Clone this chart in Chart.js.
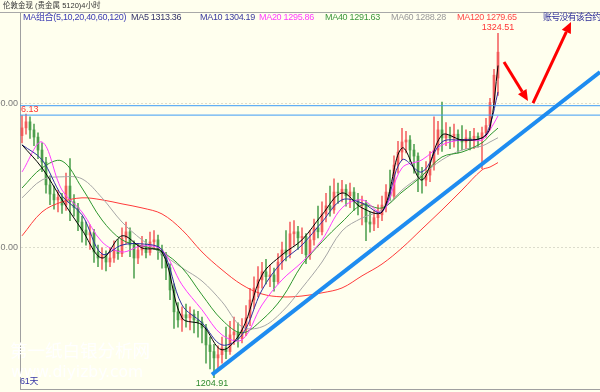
<!DOCTYPE html>
<html>
<head>
<meta charset="utf-8">
<script src="https://cdn.jsdelivr.net/npm/chart.js@4"></script>
<style>
  html, body { margin: 0; padding: 0; background: #ffffee; }
  #wrap { position: relative; width: 600px; height: 392px; overflow: hidden; background: #ffffee;
          font-family: "Liberation Sans", "Noto Sans CJK SC", sans-serif; }
  #c { position: absolute; left: 0; top: 0; }
  #head { position: absolute; left: 0; top: 0; width: 600px; height: 12px; border-bottom: 1px solid #a8a8a8; }
  .t { position: absolute; white-space: nowrap; font-size: 9px; line-height: 10px; letter-spacing: -0.3px; }
  .wm { position: absolute; white-space: nowrap; color: #ffffff; }
</style>
</head>
<body>
<div id="wrap">
  <canvas id="c" width="600" height="392"></canvas>
  <div id="head"></div>
  <div class="t" style="left:3px;top:1px;color:#333;font-size:7.5px;letter-spacing:0">伦敦金现 (贵金属 5120)4小时</div>
  <div class="t" style="left:23px;top:12px;color:#3c3cb4">MA组合(5,10,20,40,60,120)</div>
  <div class="t" style="left:131px;top:12px;color:#33336a">MA5 1313.36</div>
  <div class="t" style="left:200px;top:12px;color:#3a3aa0">MA10 1304.19</div>
  <div class="t" style="left:259px;top:12px;color:#ff3cff">MA20 1295.86</div>
  <div class="t" style="left:325px;top:12px;color:#3d983d">MA40 1291.63</div>
  <div class="t" style="left:391px;top:12px;color:#9a9a9a">MA60 1288.28</div>
  <div class="t" style="left:457px;top:12px;color:#ff4848">MA120 1279.65</div>
  <div class="t" style="left:543px;top:12px;color:#30309a;letter-spacing:-0.8px">账号没有该合约</div>
  <div class="wm" style="left:10px;top:341px;font-size:17.5px;line-height:18px;font-family:'Noto Sans CJK SC'">第一纸白银分析网</div>
  <div class="wm" style="left:11px;top:364px;font-size:15.5px;line-height:16px;font-family:'DejaVu Sans'">www.diyizby.com</div>
  <div class="t" style="left:20px;top:376px;color:#3636a6">61天</div>
</div>
<script>
/* ---------- candles (4 hour bars) ---------- */
const opens = [
  1289.0,1291.7,1293.8,1291.0,1288.5,1284.0,1279.8,1271.9,1268.7,1266.7,
  1267.6,1264.9,1271.5,1266.0,1264.0,1259.0,1256.2,1254.5,1255.3,1248.6,
  1246.5,1247.8,1245.1,1246.5,1249.3,1248.0,1253.5,1255.6,1251.0,1246.5,
  1249.3,1250.7,1248.4,1252.1,1252.8,1249.3,1247.5,1243.1,1235.4,1227.8,
  1225.0,1226.8,1225.7,1227.0,1225.0,1224.3,1222.2,1216.3,1214.0,1211.8,
  1212.9,1215.3,1214.0,1219.8,1220.8,1218.5,1221.5,1225.7,1231.9,1236.1,
  1238.9,1241.7,1240.0,1240.6,1238.3,1245.1,1249.3,1247.8,1254.9,1255.6,
  1253.5,1254.0,1247.6,1252.8,1257.0,1255.6,1261.8,1264.6,1263.2,1269.4,
  1269.1,1270.4,1268.1,1269.4,1266.7,1264.9,1265.5,1259.0,1258.3,1260.5,
  1261.5,1264.9,1269.4,1268.0,1278.8,1283.3,1286.8,1287.5,1284.0,1281.9,
  1275.3,1273.6,1275.3,1278.8,1284.0,1291.0,1288.2,1289.2,1288.2,1289.5,
  1287.5,1286.8,1288.2,1287.5,1288.8,1288.0,1290.0,1292.5,1300.5,1309.0
];
const highs = [
  1296.0,1296.5,1295.5,1293.0,1290.0,1286.5,1281.5,1275.0,1271.5,1270.0,
  1269.0,1276.0,1281.0,1268.5,1265.5,1261.0,1259.0,1258.0,1256.5,1251.0,
  1250.0,1249.0,1250.0,1252.5,1253.0,1257.0,1259.0,1257.0,1252.5,1251.5,
  1254.0,1253.0,1255.5,1256.0,1254.5,1251.0,1248.5,1244.5,1237.5,1231.0,
  1229.5,1230.5,1229.5,1228.5,1228.0,1226.0,1223.5,1219.0,1216.5,1216.0,
  1219.0,1222.5,1224.5,1226.0,1224.0,1225.5,1230.0,1236.0,1240.0,1243.5,
  1245.0,1246.0,1244.0,1243.0,1248.0,1252.0,1256.0,1259.0,1259.5,1257.5,
  1257.0,1255.0,1256.0,1260.0,1264.5,1266.0,1269.0,1271.5,1274.0,1272.5,
  1273.5,1272.0,1272.5,1271.0,1269.0,1268.0,1266.5,1262.5,1263.0,1265.0,
  1268.0,1272.0,1277.0,1282.0,1287.0,1291.5,1290.5,1289.0,1286.0,1283.0,
  1278.0,1280.0,1283.5,1295.5,1294.0,1300.7,1293.5,1292.0,1293.0,1291.0,
  1292.5,1291.0,1290.5,1291.5,1290.0,1292.0,1295.0,1302.0,1312.0,1324.51
];
const lows = [
  1286.5,1289.5,1288.0,1285.5,1281.0,1276.5,1269.0,1265.0,1263.5,1262.5,
  1262.0,1263.0,1259.5,1261.0,1256.0,1252.0,1251.0,1249.5,1245.0,1243.5,
  1242.5,1242.0,1243.5,1245.0,1246.0,1247.0,1251.5,1247.0,1239.5,1244.5,
  1247.5,1246.5,1247.5,1249.5,1246.0,1243.0,1239.0,1232.0,1222.0,1222.5,
  1221.0,1222.5,1221.5,1220.5,1219.0,1217.0,1210.0,1208.0,1204.91,1207.5,
  1210.0,1211.5,1213.0,1216.5,1215.5,1217.0,1219.5,1223.0,1229.0,1233.0,
  1236.0,1237.5,1236.5,1235.0,1237.5,1242.5,1245.5,1246.5,1251.0,1249.5,
  1248.0,1244.5,1246.0,1251.0,1253.5,1254.5,1259.0,1261.0,1262.0,1265.5,
  1266.0,1264.5,1264.0,1263.0,1261.5,1258.0,1252.5,1255.5,1256.0,1257.0,
  1259.5,1262.5,1266.5,1267.0,1276.0,1280.5,1283.0,1280.0,1276.0,1269.5,
  1269.0,1271.5,1273.0,1277.0,1282.5,1283.5,1285.5,1284.5,1285.0,1283.0,
  1284.0,1284.5,1284.0,1284.5,1285.0,1277.5,1288.5,1291.0,1299.0,1303.0
];
const closes = [
  1291.7,1293.8,1291.0,1288.5,1284.0,1279.8,1271.9,1268.7,1266.7,1267.6,
  1264.9,1271.5,1266.0,1264.0,1259.0,1256.2,1254.5,1255.3,1248.6,1246.5,
  1247.8,1245.1,1246.5,1249.3,1248.0,1253.5,1255.6,1251.0,1246.5,1249.3,
  1250.7,1248.4,1252.1,1252.8,1249.3,1247.5,1243.1,1235.4,1227.8,1225.0,
  1226.8,1225.7,1227.0,1225.0,1224.3,1222.2,1216.3,1214.0,1211.8,1212.9,
  1215.3,1214.0,1219.8,1220.8,1218.5,1221.5,1225.7,1231.9,1236.1,1238.9,
  1241.7,1240.0,1240.6,1238.3,1245.1,1249.3,1247.8,1254.9,1255.6,1253.5,
  1254.0,1247.6,1252.8,1257.0,1255.6,1261.8,1264.6,1263.2,1269.4,1269.1,
  1270.4,1268.1,1269.4,1266.7,1264.9,1265.5,1259.0,1258.3,1260.5,1261.5,
  1264.9,1269.4,1268.0,1278.8,1283.3,1286.8,1287.5,1284.0,1281.9,1275.3,
  1273.6,1275.3,1278.8,1284.0,1291.0,1288.2,1289.2,1288.2,1289.5,1287.5,
  1286.8,1288.2,1287.5,1288.8,1288.0,1290.0,1292.5,1300.5,1310.0,1318.0
];

/* ---------- moving averages, sampled at these bar indexes ---------- */
const maIdx  = [0,5,10,15,20,25,30,35,40,45,50,55,60,65,70,75,80,85,90,95,100,105,110,115,117,119];
const ma5   = [1285.8,1277.8,1266.7,1256.3,1246.5,1254.2,1250.0,1248.6,1225.7,1223.3,1214.6,1221.5,1240.6,1247.6,1252.8,1261.5,1269.1,1263.9,1262.5,1284.7,1273.6,1289.2,1287.5,1288.2,1291.7,1313.36];
const ma10  = [1285.8,1280.6,1268.1,1261.5,1247.9,1251.0,1251.4,1249.3,1230.2,1224.0,1216.3,1219.8,1235.4,1245.1,1251.0,1259.0,1266.7,1265.6,1262.5,1280.6,1276.4,1286.8,1287.5,1288.2,1292.7,1304.19];
const ma20  = [1276.4,1286.8,1270.1,1262.5,1252.1,1248.6,1250.7,1249.3,1237.2,1228.5,1219.8,1218.1,1230.2,1238.9,1245.1,1252.8,1263.9,1266.7,1262.5,1277.8,1280.6,1285.8,1287.5,1287.5,1291.0,1295.86];
const ma40  = [1270.8,1277.8,1280.2,1270.8,1259.7,1252.8,1250.7,1248.6,1243.1,1233.7,1225.0,1220.5,1225.0,1232.6,1244.1,1252.1,1259.0,1264.9,1263.9,1269.4,1275.0,1281.6,1283.3,1286.5,1289.2,1291.63];
const ma60  = [1267.4,1273.6,1274.7,1274.0,1267.4,1259.0,1252.8,1247.9,1243.1,1238.5,1231.3,1222.6,1222.6,1227.8,1236.1,1245.1,1255.9,1260.4,1263.2,1270.1,1275.3,1280.6,1284.0,1285.4,1286.8,1288.28];
const ma120 = [1254.2,1262.5,1266.0,1267.4,1266.7,1265.3,1263.9,1261.8,1256.3,1248.6,1242.4,1237.2,1234.0,1233.0,1233.3,1234.4,1236.1,1240.3,1244.4,1250.0,1256.6,1263.2,1270.1,1277.1,1278.1,1279.65];

/* ---------- axis and drawn objects ---------- */
const yTicks = [1250, 1300];
const hLines = [1299.4, 1296.13];
const trendPts = [[47.5, 1206.0], [144.5, 1311.1]];
const arrows = [
  [[120.5, 1314.6], [126.5, 1301.0]],
  [[127.75, 1300.3], [137.25, 1328.5]]
];

const up = closes.map((c, i) => c >= opens[i]);
const maLine = (vals, color, order) => ({
  type: 'line',
  data: vals.map((v, j) => ({x: maIdx[j], y: v})),
  borderColor: color, borderWidth: 1, pointRadius: 0, tension: 0.35, order: order
});

const annotations = {
  id: 'annotations',
  afterDatasetsDraw(chart) {
    const {ctx, scales: {x, y}, chartArea} = chart;
    ctx.save();
    // red arrows
    ctx.strokeStyle = '#ff0000';
    ctx.fillStyle = '#ff0000';
    ctx.lineWidth = 3;
    arrows.forEach(([s, e]) => {
      const x1 = x.getPixelForValue(s[0]), y1 = y.getPixelForValue(s[1]);
      const x2 = x.getPixelForValue(e[0]), y2 = y.getPixelForValue(e[1]);
      const a = Math.atan2(y2 - y1, x2 - x1);
      const len = 11, half = 5;
      const bx = x2 - len * Math.cos(a), by = y2 - len * Math.sin(a);
      ctx.beginPath(); ctx.moveTo(x1, y1); ctx.lineTo(bx, by); ctx.stroke();
      ctx.beginPath();
      ctx.moveTo(x2, y2);
      ctx.lineTo(bx + half * Math.sin(a), by - half * Math.cos(a));
      ctx.lineTo(bx - half * Math.sin(a), by + half * Math.cos(a));
      ctx.closePath(); ctx.fill();
    });
    // high / low labels
    ctx.font = '9px "Liberation Sans"';
    ctx.textAlign = 'center';
    const hi = highs.indexOf(Math.max(...highs));
    const lo = lows.indexOf(Math.min(...lows));
    ctx.fillStyle = '#ff3333';
    ctx.textBaseline = 'bottom';
    ctx.fillText(highs[hi].toFixed(2), x.getPixelForValue(hi), y.getPixelForValue(highs[hi]) - 1);
    ctx.fillStyle = '#2e8b2e';
    ctx.textBaseline = 'top';
    ctx.fillText(lows[lo].toFixed(2), x.getPixelForValue(lo) - 2, y.getPixelForValue(lows[lo]) + 1);
    // price line label
    ctx.fillStyle = '#ff3333';
    ctx.textAlign = 'left';
    ctx.textBaseline = 'bottom';
    ctx.fillText('6.13', chartArea.left + 1, y.getPixelForValue(hLines[1]) - 1);
    ctx.restore();
  }
};

new Chart(document.getElementById('c'), {
  type: 'bar',
  data: {
    datasets: [
      {
        type: 'line',
        data: trendPts.map(p => ({x: p[0], y: p[1]})),
        borderColor: '#1e8cf0', borderWidth: 4, pointRadius: 0, order: 0
      },
      ...hLines.map(v => ({
        type: 'line',
        data: [{x: -0.5, y: v}, {x: 144.5, y: v}],
        borderColor: '#3d9cf5', borderWidth: 1, pointRadius: 0, order: 1
      })),
      maLine(ma5, '#000000', 2),
      maLine(ma10, '#2f2fa0', 3),
      maLine(ma20, '#ff3cff', 4),
      maLine(ma40, '#2e962e', 5),
      maLine(ma60, '#a6a6a6', 6),
      maLine(ma120, '#ff3a3a', 7),
      {
        data: opens.map((o, i) => ({x: i, y: [o, closes[i]]})),
        backgroundColor: up.map(u => u ? '#f25c5c' : '#4c9e4c'),
        barThickness: 2, grouped: false, order: 8
      },
      {
        data: highs.map((h, i) => ({x: i, y: [lows[i], h]})),
        backgroundColor: up.map(u => u ? '#f46a6a' : '#5aa65a'),
        barThickness: 1, grouped: false, order: 9
      }
    ]
  },
  options: {
    responsive: false,
    animation: false,
    layout: { padding: { top: 13, left: 0, right: 0, bottom: 0 } },
    plugins: { legend: { display: false }, tooltip: { enabled: false } },
    scales: {
      x: {
        type: 'linear', min: -0.5, max: 144.5, offset: false,
        ticks: { display: false },
        grid: { display: false },
        border: { color: '#a0a0a0' },
        afterFit(s) { s.height = 3; s.paddingLeft = 0; s.paddingRight = 0; }
      },
      y: {
        type: 'linear', min: 1201.0, max: 1331.6,
        afterBuildTicks(s) { s.ticks = yTicks.map(v => ({value: v})); },
        ticks: {
          callback: v => v.toFixed(2),
          color: '#7a7a7a', padding: 2,
          font: { size: 9, family: 'Liberation Sans' }
        },
        grid: { color: '#dcdccc', drawTicks: false },
        border: { color: '#a0a0a0', dash: [2, 2] },
        afterFit(s) { s.width = 20; s.paddingTop = 0; s.paddingBottom = 0; }
      }
    }
  },
  plugins: [annotations]
});
</script>
</body>
</html>
